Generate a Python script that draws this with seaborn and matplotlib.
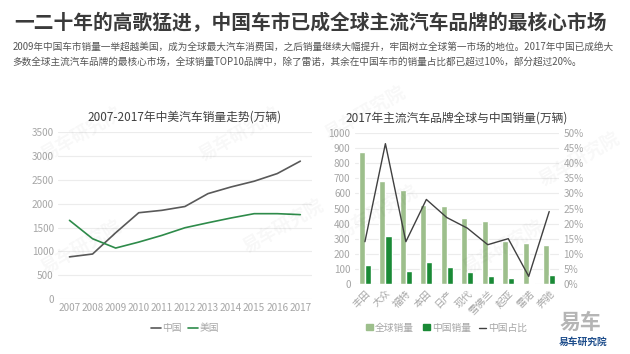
import numpy as np
import pandas as pd
import matplotlib
matplotlib.use("Agg")
import matplotlib.pyplot as plt
import seaborn as sns
from matplotlib.lines import Line2D
from matplotlib.patches import Patch

years = [str(y) for y in range(2007, 2018)]
china_sales = [885, 945, 1390, 1810, 1860, 1940, 2210, 2350, 2470, 2630, 2890]
us_sales = [1650, 1265, 1070, 1195, 1335, 1495, 1600, 1700, 1790, 1790, 1770]

brands = ["丰田", "大众", "福特", "本田", "日产", "现代", "雪佛兰", "起亚", "雷诺", "奔驰"]
global_vol = [875, 685, 620, 520, 515, 440, 415, 285, 270, 255]
china_vol = [125, 315, 85, 145, 112, 80, 55, 40, 5, 60]
china_share = [14.0, 46.5, 14.0, 28.0, 22.0, 18.5, 13.0, 15.0, 2.5, 24.0]

sns.set_theme(style="white")
plt.rcParams['font.family'] = ['Noto Sans CJK SC', 'DejaVu Sans']

tick_c = "#a6a6a6"
grid_c = "#ececec"
light_g = "#9dbf8c"
dark_g = "#1a8a36"
line_gray = "#595959"
us_green = "#2e8b4a"

fig = plt.figure(figsize=(6.3, 3.54), dpi=100)

fig.text(0.022, 0.935, "一二十年的高歌猛进，中国车市已成全球主流汽车品牌的最核心市场",
         fontsize=14.2, fontweight="bold", color="#3a3a3a", va="center")
fig.text(0.02, 0.868, "2009年中国车市销量一举超越美国，成为全球最大汽车消费国，之后销量继续大幅提升，牢固树立全球第一市场的地位。2017年中国已成绝大",
         fontsize=6.95, color="#555555", va="center")
fig.text(0.02, 0.826, "多数全球主流汽车品牌的最核心市场，全球销量TOP10品牌中，除了雷诺，其余在中国车市的销量占比都已超过10%，部分超过20%。",
         fontsize=6.95, color="#555555", va="center")

# left chart
ax1 = fig.add_axes([0.092, 0.155, 0.403, 0.472])
df1 = pd.DataFrame({"年份": years * 2,
                    "销量": china_sales + us_sales,
                    "国家": ["中国"] * len(years) + ["美国"] * len(years)})
sns.lineplot(data=df1, x="年份", y="销量", hue="国家", palette=[line_gray, us_green],
             linewidth=1.2, ax=ax1, legend=False, sort=False)
ax1.set_xlim(-0.5, len(years) - 0.5)
ax1.set_ylim(0, 3500)
ax1.set_yticks(range(0, 3501, 500))
ax1.yaxis.grid(True, color=grid_c, linewidth=0.8)
ax1.set_xlabel("")
ax1.set_ylabel("")
for s in ax1.spines.values():
    s.set_visible(False)
ax1.tick_params(axis="both", colors=tick_c, labelsize=7.2, length=0, pad=3)
ax1.set_title("2007-2017年中美汽车销量走势(万辆)", fontsize=8.5, color="#404040", pad=8)
ax1.legend(handles=[Line2D([], [], color=line_gray, lw=1.2), Line2D([], [], color=us_green, lw=1.2)],
           labels=["中国", "美国"], loc="upper center", bbox_to_anchor=(0.5, -0.09),
           ncol=2, frameon=False, fontsize=7, handlelength=1.0, handletextpad=0.2,
           columnspacing=0.6, labelcolor=tick_c)

# right chart
ax2 = fig.add_axes([0.563, 0.198, 0.325, 0.426])
df2 = pd.DataFrame({"品牌": brands * 2,
                    "销量": global_vol + china_vol,
                    "类型": ["全球销量"] * len(brands) + ["中国销量"] * len(brands)})
sns.barplot(data=df2, x="品牌", y="销量", hue="类型", palette=[light_g, dark_g],
            width=0.6, ax=ax2, legend=False, saturation=1)
ax2.set_ylim(0, 1000)
ax2.set_yticks(range(0, 1001, 100))
ax2.yaxis.grid(True, color=grid_c, linewidth=0.8)
ax2.set_axisbelow(True)
ax2.set_xlabel("")
ax2.set_ylabel("")
for s in ax2.spines.values():
    s.set_visible(False)
ax2.tick_params(axis="both", colors=tick_c, labelsize=7.2, length=0, pad=3)
plt.setp(ax2.get_xticklabels(), rotation=45, ha="right", rotation_mode="anchor")
ax2.set_title("2017年主流汽车品牌全球与中国销量(万辆)", fontsize=8.5, color="#404040", pad=8)

ax3 = ax2.twinx()
sns.lineplot(x=np.arange(len(brands)), y=china_share, color="#404040", linewidth=1.0, ax=ax3)
ax3.set_ylim(0, 50)
ax3.set_yticks(range(0, 51, 5))
ax3.set_yticklabels([f"{v}%" for v in range(0, 51, 5)])
ax3.set_xlim(-0.5, len(brands) - 0.5)
for s in ax3.spines.values():
    s.set_visible(False)
ax3.tick_params(axis="y", colors=tick_c, labelsize=7.2, length=0, pad=3)

ax2.legend(handles=[Patch(color=light_g), Patch(color=dark_g), Line2D([], [], color="#404040", lw=1.0)],
           labels=["全球销量", "中国销量", "中国占比"], loc="upper center",
           bbox_to_anchor=(0.45, -0.2), ncol=3, frameon=False, fontsize=7,
           handlelength=0.7, handleheight=0.6, handletextpad=0.2, columnspacing=0.9,
           labelcolor=tick_c)

# faint watermarks
for (x, y) in [(0.13, 0.62), (0.38, 0.62), (0.58, 0.68), (0.13, 0.3), (0.45, 0.36), (0.6, 0.4), (0.8, 0.3), (0.92, 0.55)]:
    fig.text(x, y, "易车研究院", fontsize=13, color="#000000", alpha=0.03, rotation=30,
             ha="center", va="center", fontweight="bold")

# logo
fig.text(0.955, 0.09, "易车", fontsize=15, color="#b5b5b5", ha="right", va="center", fontweight="bold")
fig.text(0.965, 0.035, "易车研究院", fontsize=7, color="#1f4e8c", ha="right", va="center", fontweight="bold")

fig.savefig("out.png", dpi=100, facecolor="white")
